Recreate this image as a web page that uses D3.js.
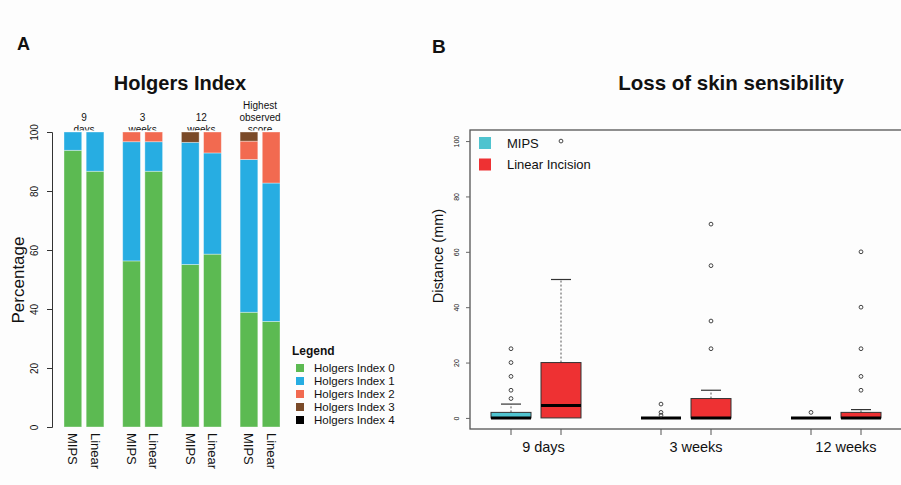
<!DOCTYPE html>
<html>
<head>
<meta charset="utf-8">
<script src="https://cdn.jsdelivr.net/npm/d3@7"></script>
<style>
  body { margin: 0; background: #fdfdfd; }
  text { font-family: "Liberation Sans", Arial, sans-serif; fill: #111; }
</style>
</head>
<body>
<div id="chart"></div>
<script>
// ---- panel A data (percent of patients per Holgers index) ----
const hiGroups = ["9 days", "3 weeks", "12 weeks", "Highest observed score"];
const hiGroupLines = [["9", "days"], ["3", "weeks"], ["12", "weeks"], ["Highest", "observed", "score"]];
const hiMethods = ["MIPS", "Linear"];
const hiLevels = ["Holgers Index 0", "Holgers Index 1", "Holgers Index 2", "Holgers Index 3", "Holgers Index 4"];
const hiColors = ["#5cba52", "#27ade2", "#f26a50", "#7a4a28", "#000000"];
const mipsHI = [
  [93.8, 6.2, 0, 0, 0],
  [56.3, 40.4, 3.3, 0, 0],
  [55.1, 41.4, 0, 3.5, 0],
  [38.9, 51.8, 6.2, 3.1, 0]
];
const linearHI = [
  [86.7, 13.3, 0, 0, 0],
  [86.7, 10.0, 3.3, 0, 0],
  [58.6, 34.3, 7.1, 0, 0],
  [35.8, 46.9, 17.3, 0, 0]
];
const hiTicks = [0, 20, 40, 60, 80, 100];

// ---- panel B data (distance in mm) ----
const timeLabels = ["9 days", "3 weeks", "12 weeks"];
const boxGroups = ["MIPS", "Linear Incision"];
const boxColors = ["#4fc3cf", "#ee3133"];
// [low whisker, Q1, median, Q3, high whisker]
const mipsStats = [[0, 0, 0, 2, 5], [0, 0, 0, 0, 0], [0, 0, 0, 0, 0]];
const linearStats = [[0, 0, 4.5, 20, 50], [0, 0, 0, 7, 10], [0, 0, 0, 2, 3]];
const mipsOut = [[7, 10, 15, 20, 25], [1, 2, 5], [2]];
const linearOut = [[100], [25, 35, 55, 70], [10, 15, 25, 40, 60]];
const distTicks = [0, 20, 40, 60, 80, 100];

const W = 901, H = 485;
const svg = d3.select("#chart").append("svg")
  .attr("width", W).attr("height", H)
  .style("background", "#fdfdfd");

// ================= Panel A =================
svg.append("text").attr("x", 17).attr("y", 50)
  .attr("font-size", 18).attr("font-weight", "bold").text("A");
svg.append("text").attr("x", 180).attr("y", 90).attr("text-anchor", "middle")
  .attr("font-size", 20).attr("font-weight", "bold").text("Holgers Index");

const yA = d3.scaleLinear().domain([0, 100]).range([427, 132]);
const xA = d3.scaleBand().domain(hiGroups).range([64, 280]).paddingInner(0.32).paddingOuter(0);
const xA2 = d3.scaleBand().domain(hiMethods).range([0, xA.bandwidth()]).paddingInner(0.2);

const yAxisA = svg.append("g").attr("transform", "translate(52,0)")
  .call(d3.axisLeft(yA).tickValues(hiTicks).tickSize(5));
yAxisA.select(".domain").attr("stroke", "#333");
yAxisA.selectAll(".tick line").attr("stroke", "#333");
yAxisA.selectAll(".tick text")
  .attr("font-size", 10).attr("fill", "#222")
  .attr("font-family", "Liberation Sans, Arial, sans-serif")
  .attr("x", 0).attr("dy", 0).attr("text-anchor", "middle")
  .attr("transform", "translate(-14,0) rotate(-90)");

svg.append("text")
  .attr("transform", "translate(24,280) rotate(-90)")
  .attr("text-anchor", "middle").attr("font-size", 17).text("Percentage");

// stacked bars
const stackRows = [];
hiGroups.forEach((g, gi) => {
  [mipsHI[gi], linearHI[gi]].forEach((vals, mi) => {
    let acc = 0;
    vals.forEach((v, li) => {
      stackRows.push({ g, m: hiMethods[mi], li, y0: acc, y1: acc + v });
      acc += v;
    });
  });
});

svg.append("g").selectAll("rect")
  .data(stackRows.filter(d => d.y1 > d.y0))
  .join("rect")
  .attr("x", d => xA(d.g) + xA2(d.m))
  .attr("width", xA2.bandwidth())
  .attr("y", d => yA(d.y1))
  .attr("height", d => yA(d.y0) - yA(d.y1))
  .attr("fill", d => hiColors[d.li])
  .attr("stroke", "rgba(255,255,255,0.45)")
  .attr("stroke-width", 0.8);

// group labels above bars (clipped at the top of the plot like the original)
svg.append("clipPath").attr("id", "topclip")
  .append("rect").attr("x", 0).attr("y", 0).attr("width", 300).attr("height", 130.5);
const glab = svg.append("g").attr("clip-path", "url(#topclip)");
hiGroups.forEach((g, gi) => {
  const lines = hiGroupLines[gi];
  lines.forEach((ln, k) => {
    glab.append("text")
      .attr("x", xA(g) + xA.bandwidth() / 2)
      .attr("y", 132.5 - (lines.length - 1 - k) * 12)
      .attr("text-anchor", "middle").attr("font-size", 10).text(ln);
  });
});

// method labels under bars
const mlab = svg.append("g");
hiGroups.forEach(g => {
  hiMethods.forEach(m => {
    const cx = xA(g) + xA2(m) + xA2.bandwidth() / 2;
    mlab.append("text")
      .attr("transform", `translate(${cx},433) rotate(90)`)
      .attr("dominant-baseline", "central")
      .attr("font-size", 13).text(m);
  });
});

// legend A
const legA = svg.append("g").attr("transform", "translate(292,355)");
legA.append("text").attr("x", 0).attr("y", 0)
  .attr("font-size", 12).attr("font-weight", "bold").text("Legend");
hiLevels.forEach((lv, i) => {
  const row = legA.append("g").attr("transform", `translate(0,${13 + i * 13})`);
  row.append("rect").attr("x", 4).attr("y", -4).attr("width", 8).attr("height", 8)
    .attr("fill", hiColors[i]);
  row.append("text").attr("x", 22).attr("y", 0).attr("dominant-baseline", "central")
    .attr("font-size", 11.5).text(lv);
});

// ================= Panel B =================
svg.append("text").attr("x", 432).attr("y", 53)
  .attr("font-size", 19).attr("font-weight", "bold").text("B");
svg.append("text").attr("x", 731).attr("y", 90).attr("text-anchor", "middle")
  .attr("font-size", 20.5).attr("font-weight", "bold").text("Loss of skin sensibility");

const xB = d3.scaleLinear().domain([0.18, 8.82]).range([470, 902]);
const yB = d3.scaleLinear().domain([-4, 104]).range([429, 130]);
const boxPos = [[1, 2], [4, 5], [7, 8]];
const labelPos = [1.65, 4.7, 7.7];

// frame
svg.append("rect").attr("x", 470).attr("y", 130).attr("width", 432).attr("height", 299)
  .attr("fill", "none").attr("stroke", "#555").attr("stroke-width", 1.3);

const yAxisB = svg.append("g").attr("transform", "translate(470,0)")
  .call(d3.axisLeft(yB).tickValues(distTicks).tickSize(4));
yAxisB.select(".domain").remove();
yAxisB.selectAll(".tick line").attr("stroke", "#666");
yAxisB.selectAll(".tick text")
  .attr("font-size", 7).attr("fill", "#333")
  .attr("font-family", "Liberation Sans, Arial, sans-serif")
  .attr("x", 0).attr("dy", 0).attr("text-anchor", "middle")
  .attr("transform", "translate(-11,0) rotate(-90)");

svg.append("text")
  .attr("transform", "translate(443,256) rotate(-90)")
  .attr("text-anchor", "middle").attr("font-size", 14.5).text("Distance (mm)");

// x ticks
const allPos = boxPos.flat();
svg.append("g").selectAll("line").data(allPos).join("line")
  .attr("x1", d => xB(d)).attr("x2", d => xB(d))
  .attr("y1", 429).attr("y2", 435).attr("stroke", "#555");
svg.append("g").selectAll("text").data(timeLabels).join("text")
  .attr("x", (d, i) => xB(labelPos[i])).attr("y", 452)
  .attr("text-anchor", "middle").attr("font-size", 14.5).text(d => d);

// boxes
const boxes = [];
timeLabels.forEach((t, ti) => {
  boxes.push({ pos: boxPos[ti][0], s: mipsStats[ti], out: mipsOut[ti], c: boxColors[0] });
  boxes.push({ pos: boxPos[ti][1], s: linearStats[ti], out: linearOut[ti], c: boxColors[1] });
});
const bw = xB(1.4) - xB(1);
const cw = xB(1.2) - xB(1);
const bg = svg.append("g").selectAll("g").data(boxes).join("g");
// whiskers
bg.filter(d => d.s[4] > d.s[3]).append("line")
  .attr("x1", d => xB(d.pos)).attr("x2", d => xB(d.pos))
  .attr("y1", d => yB(d.s[3])).attr("y2", d => yB(d.s[4]))
  .attr("stroke", "#555").attr("stroke-dasharray", "2,2");
bg.filter(d => d.s[4] > d.s[3]).append("line")
  .attr("x1", d => xB(d.pos) - cw).attr("x2", d => xB(d.pos) + cw)
  .attr("y1", d => yB(d.s[4])).attr("y2", d => yB(d.s[4]))
  .attr("stroke", "#333").attr("stroke-width", 1.2);
// box
bg.append("rect")
  .attr("x", d => xB(d.pos) - bw).attr("width", 2 * bw)
  .attr("y", d => yB(d.s[3])).attr("height", d => yB(d.s[1]) - yB(d.s[3]))
  .attr("fill", d => d.c).attr("stroke", "#333").attr("stroke-width", 1);
// median
bg.append("line")
  .attr("x1", d => xB(d.pos) - bw).attr("x2", d => xB(d.pos) + bw)
  .attr("y1", d => yB(d.s[2])).attr("y2", d => yB(d.s[2]))
  .attr("stroke", "#000").attr("stroke-width", 3);
// outliers
bg.selectAll("circle").data(d => d.out.map(v => ({ v, pos: d.pos }))).join("circle")
  .attr("cx", d => xB(d.pos)).attr("cy", d => yB(d.v)).attr("r", 1.9)
  .attr("fill", "none").attr("stroke", "#444").attr("stroke-width", 1);

// legend B
const legB = svg.append("g").attr("transform", "translate(479,137)");
boxGroups.forEach((g, i) => {
  const row = legB.append("g").attr("transform", `translate(0,${i * 21.5})`);
  row.append("rect").attr("width", 12).attr("height", 12).attr("fill", boxColors[i]);
  row.append("text").attr("x", 28).attr("y", 6).attr("dominant-baseline", "central")
    .attr("font-size", 13).text(g);
});
</script>
</body>
</html>
